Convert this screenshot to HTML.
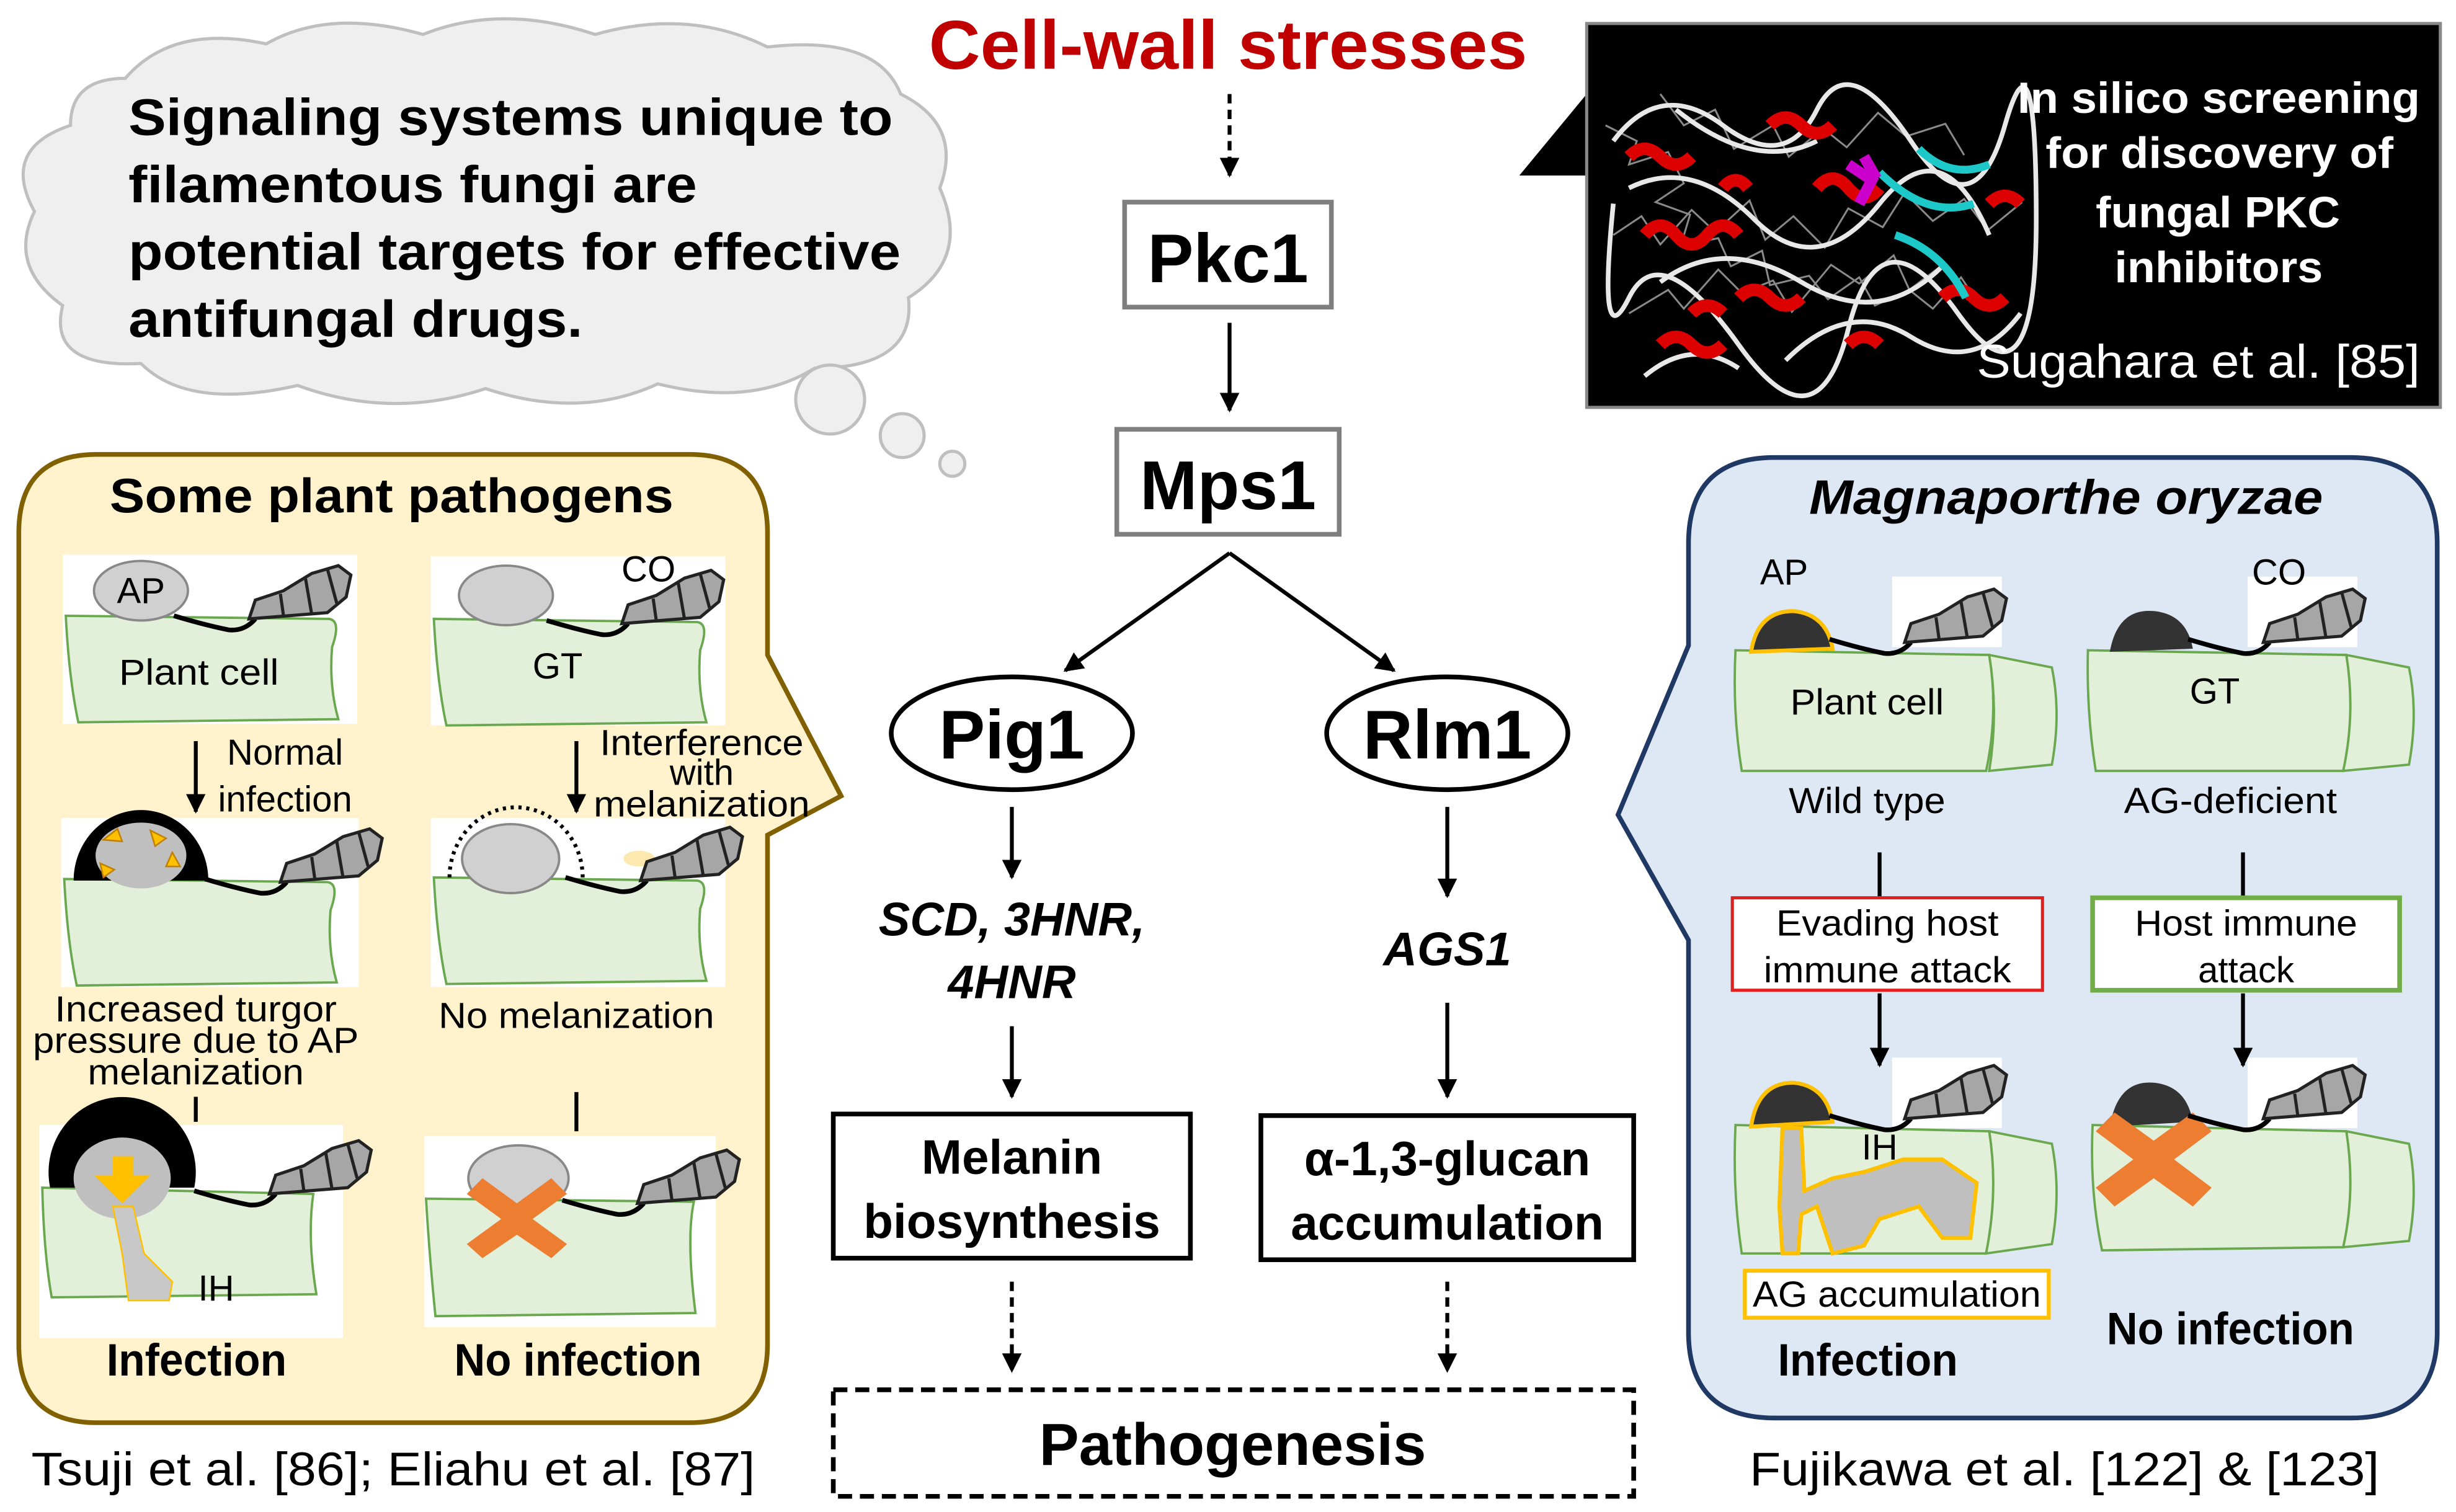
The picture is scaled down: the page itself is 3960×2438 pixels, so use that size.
<!DOCTYPE html>
<html><head><meta charset="utf-8"><style>
html,body{margin:0;padding:0;background:#fff;}
svg{display:block;}
text{font-family:"Liberation Sans",Arial,sans-serif;}
</style></head><body>
<svg width="3960" height="2438" viewBox="0 0 1568 965" preserveAspectRatio="none" xmlns="http://www.w3.org/2000/svg">
<defs>
<marker id="ah" viewBox="0 0 10 10" refX="9" refY="5" markerWidth="5" markerHeight="5" orient="auto-start-reverse"><path d="M0,0 L10,5 L0,10 z" fill="#000"/></marker>
<g id="hy">
<path d="M0,0 Q20,6 35,9 Q45,10 52,2" fill="none" stroke="#000" stroke-width="3"/>
<path d="M48,2 L98,-2 L110,-12 L113,-26 L105,-32 L88,-27 L70,-16 L52,-10 Z" fill="#a6a6a6" stroke="#222" stroke-width="2"/>
<path d="M68,-14 L70,0 M84,-24 L88,-1 M98,-30 L104,-8" stroke="#222" stroke-width="2" fill="none"/>
</g>
<g id="cellL">
<path d="M0,0 L168,2 Q176,3 170,20 Q168,45 174,66 L8,68 Q2,40 0,0 Z" fill="#e2efd9" stroke="#6aa84f" stroke-width="1.5"/>
</g>
</defs>

<!-- cloud -->
<g fill="#efefef" stroke="#bfbfbf" stroke-width="2">
<path d="M80,50 Q110,15 170,28 Q210,5 270,22 Q320,2 380,22 Q440,5 490,30 Q560,22 575,60 Q615,80 600,120 Q620,165 580,190 Q585,235 520,235 Q480,260 420,245 Q370,268 310,248 Q250,268 190,246 Q120,262 90,232 Q30,235 40,195 Q5,170 22,135 Q0,95 45,80 Q45,50 80,50 Z"/>
<circle cx="530" cy="255" r="22"/><circle cx="576" cy="278" r="14"/><circle cx="608" cy="296" r="8"/>
</g>
<g font-weight="bold" font-size="33" fill="#000">
<text x="82" y="86" textLength="488" lengthAdjust="spacingAndGlyphs">Signaling systems unique to</text>
<text x="82" y="129" textLength="363" lengthAdjust="spacingAndGlyphs">filamentous fungi are</text>
<text x="82" y="172" textLength="493" lengthAdjust="spacingAndGlyphs">potential targets for effective</text>
<text x="82" y="215" textLength="290" lengthAdjust="spacingAndGlyphs">antifungal drugs.</text>
</g>

<!-- title & main flow -->
<text x="593" y="44" font-size="44" font-weight="bold" fill="#c00000" textLength="382" lengthAdjust="spacingAndGlyphs">Cell-wall stresses</text>
<line x1="785" y1="60" x2="785" y2="112" stroke="#000" stroke-width="2.5" stroke-dasharray="6,4" marker-end="url(#ah)"/>
<rect x="718" y="129" width="132" height="67" fill="#fff" stroke="#7f7f7f" stroke-width="3"/>
<text x="784" y="180" text-anchor="middle" font-size="44" font-weight="bold">Pkc1</text>
<line x1="785" y1="206" x2="785" y2="262" stroke="#000" stroke-width="2.5" marker-end="url(#ah)"/>
<rect x="713" y="274" width="142" height="67" fill="#fff" stroke="#7f7f7f" stroke-width="3"/>
<text x="784" y="325" text-anchor="middle" font-size="44" font-weight="bold">Mps1</text>
<line x1="785" y1="353" x2="680" y2="428" stroke="#000" stroke-width="2.5" marker-end="url(#ah)"/>
<line x1="785" y1="353" x2="890" y2="428" stroke="#000" stroke-width="2.5" marker-end="url(#ah)"/>
<ellipse cx="646" cy="468" rx="77" ry="36" fill="#fff" stroke="#000" stroke-width="3"/>
<text x="646" y="484" text-anchor="middle" font-size="44" font-weight="bold">Pig1</text>
<ellipse cx="924" cy="468" rx="77" ry="36" fill="#fff" stroke="#000" stroke-width="3"/>
<text x="924" y="484" text-anchor="middle" font-size="44" font-weight="bold">Rlm1</text>
<line x1="646" y1="515" x2="646" y2="560" stroke="#000" stroke-width="2.5" marker-end="url(#ah)"/>
<line x1="924" y1="515" x2="924" y2="572" stroke="#000" stroke-width="2.5" marker-end="url(#ah)"/>
<text x="646" y="597" text-anchor="middle" font-size="30" font-weight="bold" font-style="italic">SCD, 3HNR,</text>
<text x="646" y="637" text-anchor="middle" font-size="30" font-weight="bold" font-style="italic">4HNR</text>
<text x="924" y="616" text-anchor="middle" font-size="30" font-weight="bold" font-style="italic">AGS1</text>
<line x1="646" y1="655" x2="646" y2="700" stroke="#000" stroke-width="2.5" marker-end="url(#ah)"/>
<line x1="924" y1="640" x2="924" y2="700" stroke="#000" stroke-width="2.5" marker-end="url(#ah)"/>
<rect x="532" y="711" width="228" height="92" fill="#fff" stroke="#000" stroke-width="3"/>
<text x="646" y="749" text-anchor="middle" font-size="31" font-weight="bold">Melanin</text>
<text x="646" y="790" text-anchor="middle" font-size="31" font-weight="bold">biosynthesis</text>
<rect x="805" y="712" width="238" height="92" fill="#fff" stroke="#000" stroke-width="3"/>
<text x="924" y="750" text-anchor="middle" font-size="31" font-weight="bold">α-1,3-glucan</text>
<text x="924" y="791" text-anchor="middle" font-size="31" font-weight="bold">accumulation</text>
<line x1="646" y1="818" x2="646" y2="875" stroke="#000" stroke-width="2.5" stroke-dasharray="6,4" marker-end="url(#ah)"/>
<line x1="924" y1="818" x2="924" y2="875" stroke="#000" stroke-width="2.5" stroke-dasharray="6,4" marker-end="url(#ah)"/>
<rect x="532" y="887" width="511" height="68" fill="#fff" stroke="#000" stroke-width="3" stroke-dasharray="9,5"/>
<text x="787" y="935" text-anchor="middle" font-size="38" font-weight="bold">Pathogenesis</text>

<!-- black box -->
<path d="M1013,60 L970,112 L1013,112 Z" fill="#000"/>
<rect x="1013" y="15" width="545" height="245" fill="#000" stroke="#888" stroke-width="2"/>
<g fill="none">
<g stroke="#8a8a8a" stroke-width="1.2">
<path d="M1025,80 l20,10 l-5,15 l25,-8 l10,20 l-18,12 l22,8 l-6,20 l24,-5 l8,18 l20,-10 l5,22 l25,-6 l12,15 l20,-14 l10,18 l22,-10 l15,12 l18,-20 l10,15"/>
<path d="M1030,150 l18,-12 l12,18 l20,-22 l15,14 l22,-20 l10,25 l18,-15 l20,20 l15,-25 l22,12 l14,-22 l18,18 l20,-14 l15,20 l22,-18"/>
<path d="M1040,200 l25,-15 l10,12 l22,-25 l15,15 l20,-8 l12,20 l25,-30 l18,12 l22,-18 l10,22 l20,-15 l15,18"/>
<path d="M1060,60 l15,20 l20,-10 l12,25 l25,-15 l10,20 l22,-18 l15,12 l20,-22 l18,15 l25,-8 l12,20"/>
</g>
<g stroke="#e8e8e8" stroke-width="3">
<path d="M1030,90 Q1060,50 1100,80 T1160,70 T1220,90 T1280,80 T1300,140 T1250,200 T1180,210 T1110,220 T1040,190 T1030,130"/>
<path d="M1040,120 Q1080,100 1120,140 T1200,130 T1270,150 M1060,180 Q1100,150 1150,180 T1240,170 M1070,70 Q1120,110 1160,90 M1140,230 Q1180,190 1220,215 T1290,200 M1050,240 Q1080,215 1110,235"/>
</g>
<g stroke="#d00" stroke-width="8">
<path d="M1040,100 q10,-10 20,0 t20,0 M1050,150 q10,-12 20,0 t20,0 t20,0 M1110,190 q10,-10 20,0 t20,0 M1160,120 q10,-12 20,0 t20,0 M1080,200 q10,-10 20,0 M1240,190 q10,-10 20,0 t20,0 M1130,80 q10,-10 20,0 t20,0 M1060,220 q10,-10 20,0 t20,0 M1180,220 q10,-10 20,0 M1270,130 q10,-10 20,0 M1100,120 q8,-10 16,0"/>
</g>
<path d="M1200,110 Q1230,140 1260,130 M1210,150 Q1240,160 1255,190 M1225,95 Q1245,115 1270,105" stroke="#1cc8c8" stroke-width="5"/>
<path d="M1180,105 l15,10 l-8,15 M1190,100 l8,14" stroke="#c0c" stroke-width="7"/>
</g>
<g font-weight="bold" font-size="28" fill="#fff">
<text x="1288" y="72" textLength="257" lengthAdjust="spacingAndGlyphs">In silico screening</text>
<text x="1306" y="107" textLength="222" lengthAdjust="spacingAndGlyphs">for discovery of</text>
<text x="1338" y="145" textLength="156" lengthAdjust="spacingAndGlyphs">fungal PKC</text>
<text x="1350" y="180" textLength="133" lengthAdjust="spacingAndGlyphs">inhibitors</text>
</g>
<text x="1262" y="241" font-size="30" fill="#fff" textLength="283" lengthAdjust="spacingAndGlyphs">Sugahara et al. [85]</text>

<!-- left panel -->
<path d="M62,290 L440,290 Q490,290 490,340 L490,418 L537,508 L490,533 L490,858 Q490,908 440,908 L62,908 Q12,908 12,858 L12,340 Q12,290 62,290 Z" fill="#fff2cc" stroke="#806000" stroke-width="3"/>
<text x="70" y="327" font-size="31" font-weight="bold" textLength="360" lengthAdjust="spacingAndGlyphs">Some plant pathogens</text>

<rect x="40" y="354" width="188" height="108" fill="#fff"/>
<use href="#cellL" x="42" y="393"/>
<ellipse cx="90" cy="377" rx="30" ry="19" fill="#d0d0d0" stroke="#888" stroke-width="1.5"/>
<text x="90" y="385" text-anchor="middle" font-size="23">AP</text>
<text x="127" y="437" text-anchor="middle" font-size="23" textLength="102" lengthAdjust="spacingAndGlyphs">Plant cell</text>
<use href="#hy" x="111" y="393"/>

<rect x="275" y="355" width="188" height="108" fill="#fff"/>
<use href="#cellL" x="277" y="395"/>
<ellipse cx="323" cy="380" rx="30" ry="19" fill="#d0d0d0" stroke="#888" stroke-width="1.5"/>
<text x="414" y="371" text-anchor="middle" font-size="23">CO</text>
<text x="356" y="433" text-anchor="middle" font-size="23">GT</text>
<use href="#hy" x="349" y="396"/>

<line x1="125" y1="473" x2="125" y2="518" stroke="#000" stroke-width="2.5" marker-end="url(#ah)"/>
<text x="182" y="488" text-anchor="middle" font-size="23">Normal</text>
<text x="182" y="518" text-anchor="middle" font-size="23">infection</text>
<line x1="368" y1="473" x2="368" y2="518" stroke="#000" stroke-width="2.5" marker-end="url(#ah)"/>
<text x="448" y="482" text-anchor="middle" font-size="23" textLength="130" lengthAdjust="spacingAndGlyphs">Interference</text>
<text x="448" y="501" text-anchor="middle" font-size="23">with</text>
<text x="448" y="521" text-anchor="middle" font-size="23" textLength="138" lengthAdjust="spacingAndGlyphs">melanization</text>

<rect x="39" y="522" width="190" height="108" fill="#fff"/>
<use href="#cellL" x="41" y="561"/>
<path d="M47,562 A43,45 0 1 1 133,562 Z" fill="#000"/>
<ellipse cx="90" cy="546" rx="29" ry="21" fill="#bfbfbf"/>
<g fill="#ffc000" stroke="#c08000" stroke-width="1"><path d="M66,536 l9,-7 l3,8 z"/><path d="M96,530 l10,5 l-7,5 z"/><path d="M110,544 l5,9 l-9,0 z"/><path d="M64,551 l2,9 l7,-5 z"/></g>
<use href="#hy" x="131" y="561"/>

<rect x="275" y="522" width="188" height="108" fill="#fff"/>
<use href="#cellL" x="277" y="560"/>
<path d="M287,560 A38,40 0 1 1 372,560" fill="none" stroke="#000" stroke-width="2.5" stroke-dasharray="2,3"/>
<ellipse cx="326" cy="548" rx="31" ry="22" fill="#d0d0d0" stroke="#888" stroke-width="1.5"/>
<ellipse cx="408" cy="548" rx="10" ry="5" fill="#fde8b0"/>
<use href="#hy" x="361" y="560"/>

<text x="125" y="652" text-anchor="middle" font-size="23" textLength="180" lengthAdjust="spacingAndGlyphs">Increased turgor</text>
<text x="125" y="672" text-anchor="middle" font-size="23" textLength="208" lengthAdjust="spacingAndGlyphs">pressure due to AP</text>
<text x="125" y="692" text-anchor="middle" font-size="23" textLength="138" lengthAdjust="spacingAndGlyphs">melanization</text>
<text x="368" y="656" text-anchor="middle" font-size="23" textLength="176" lengthAdjust="spacingAndGlyphs">No melanization</text>
<line x1="125" y1="700" x2="125" y2="716" stroke="#000" stroke-width="2.5"/>
<line x1="368" y1="697" x2="368" y2="722" stroke="#000" stroke-width="2.5"/>

<rect x="25" y="718" width="194" height="136" fill="#fff"/>
<path d="M27,758 L200,762 Q196,790 202,826 L33,828 Q28,800 27,758 Z" fill="#e2efd9" stroke="#6aa84f" stroke-width="1.5"/>
<path d="M32,758 A47,48 0 1 1 124,758 Z" fill="#000"/>
<ellipse cx="78" cy="752" rx="31" ry="26" fill="#bfbfbf"/>
<path d="M72,738 L85,738 L85,750 L96,750 L78,768 L60,750 L72,750 Z" fill="#ffc000"/>
<path d="M72,770 L85,770 L92,800 L110,818 L108,830 L82,830 L78,800 Z" fill="#c8c8c8" stroke="#ffc000" stroke-width="1"/>
<text x="138" y="830" text-anchor="middle" font-size="23">IH</text>
<use href="#hy" x="124" y="760"/>

<rect x="271" y="725" width="186" height="122" fill="#fff"/>
<path d="M272,765 L443,767 Q438,790 444,838 L278,840 Q274,800 272,765 Z" fill="#e2efd9" stroke="#6aa84f" stroke-width="1.5"/>
<ellipse cx="331" cy="752" rx="32" ry="21" fill="#d0d0d0" stroke="#888" stroke-width="1.5"/>
<path d="M308,752 L330,768 L352,752 L362,762 L340,778 L362,794 L352,803 L330,788 L308,803 L298,794 L320,778 L298,762 Z" fill="#ed7d31"/>
<use href="#hy" x="359" y="766"/>

<text x="68" y="878" font-size="29" font-weight="bold" textLength="115" lengthAdjust="spacingAndGlyphs">Infection</text>
<text x="290" y="878" font-size="29" font-weight="bold" textLength="158" lengthAdjust="spacingAndGlyphs">No infection</text>
<text x="20" y="948" font-size="30" textLength="462" lengthAdjust="spacingAndGlyphs">Tsuji et al. [86]; Eliahu et al. [87]</text>

<!-- right panel -->
<path d="M1133,292 L1501,292 Q1556,292 1556,347 L1556,850 Q1556,905 1501,905 L1133,905 Q1078,905 1078,850 L1078,600 L1033,520 L1078,412 L1078,347 Q1078,292 1133,292 Z" fill="#dee8f5" stroke="#1f3864" stroke-width="3"/>
<text x="1155" y="328" font-size="31" font-weight="bold" font-style="italic" textLength="328" lengthAdjust="spacingAndGlyphs">Magnaporthe oryzae</text>

<rect x="1208" y="368" width="70" height="45" fill="#fff"/>
<rect x="1435" y="368" width="70" height="45" fill="#fff"/>
<text x="1139" y="373" text-anchor="middle" font-size="23">AP</text>
<text x="1455" y="373" text-anchor="middle" font-size="23">CO</text>
<g fill="#e2efd9" stroke="#6aa84f" stroke-width="1.5">
<path d="M1108,415 L1270,418 Q1276,455 1268,492 L1112,492 Q1106,455 1108,415 Z"/>
<path d="M1270,418 L1310,426 Q1316,455 1310,488 L1270,492 Q1276,455 1270,418 Z"/>
<path d="M1333,415 L1498,418 Q1504,455 1496,492 L1338,492 Q1332,455 1333,415 Z"/>
<path d="M1498,418 L1538,426 Q1544,455 1538,488 L1496,492 Q1504,455 1498,418 Z"/>
</g>
<path d="M1118,416 Q1122,390 1145,390 Q1166,392 1170,414 Z" fill="#333" stroke="#ffc000" stroke-width="2.5"/>
<path d="M1347,416 Q1352,388 1375,390 Q1396,392 1400,414 Z" fill="#333"/>
<use href="#hy" x="1168" y="408"/>
<use href="#hy" x="1397" y="408"/>
<text x="1192" y="456" text-anchor="middle" font-size="23" textLength="98" lengthAdjust="spacingAndGlyphs">Plant cell</text>
<text x="1414" y="449" text-anchor="middle" font-size="23">GT</text>
<text x="1192" y="519" text-anchor="middle" font-size="23" textLength="100" lengthAdjust="spacingAndGlyphs">Wild type</text>
<text x="1424" y="519" text-anchor="middle" font-size="23" textLength="136" lengthAdjust="spacingAndGlyphs">AG-deficient</text>
<line x1="1200" y1="544" x2="1200" y2="572" stroke="#000" stroke-width="2.5"/>
<line x1="1432" y1="544" x2="1432" y2="572" stroke="#000" stroke-width="2.5"/>
<rect x="1106" y="573" width="198" height="59" fill="#fff" stroke="#e02020" stroke-width="2"/>
<text x="1205" y="597" text-anchor="middle" font-size="23" textLength="142" lengthAdjust="spacingAndGlyphs">Evading host</text>
<text x="1205" y="627" text-anchor="middle" font-size="23" textLength="158" lengthAdjust="spacingAndGlyphs">immune attack</text>
<rect x="1336" y="573" width="196" height="59" fill="#fff" stroke="#70ad47" stroke-width="3"/>
<text x="1434" y="597" text-anchor="middle" font-size="23" textLength="142" lengthAdjust="spacingAndGlyphs">Host immune</text>
<text x="1434" y="627" text-anchor="middle" font-size="23">attack</text>
<line x1="1200" y1="634" x2="1200" y2="680" stroke="#000" stroke-width="2.5" marker-end="url(#ah)"/>
<line x1="1432" y1="634" x2="1432" y2="680" stroke="#000" stroke-width="2.5" marker-end="url(#ah)"/>

<rect x="1208" y="675" width="70" height="45" fill="#fff"/>
<rect x="1435" y="675" width="70" height="45" fill="#fff"/>
<g fill="#e2efd9" stroke="#6aa84f" stroke-width="1.5">
<path d="M1108,718 L1270,722 Q1276,760 1268,800 L1112,800 Q1106,760 1108,718 Z"/>
<path d="M1270,722 L1310,730 Q1316,760 1310,794 L1268,800 Q1276,760 1270,722 Z"/>
<path d="M1336,718 L1498,722 Q1504,760 1496,796 L1342,798 Q1334,760 1336,718 Z"/>
<path d="M1498,722 L1538,730 Q1544,760 1538,792 L1496,796 Q1504,760 1498,722 Z"/>
</g>
<path d="M1118,719 Q1122,691 1145,691 Q1166,693 1170,716 Z" fill="#333" stroke="#ffc000" stroke-width="2.5"/>
<path d="M1138,720 L1150,720 L1152,760 L1170,752 L1190,748 L1215,740 L1240,740 L1262,755 L1258,790 L1240,790 L1225,770 L1200,778 L1190,795 L1170,800 L1160,770 L1150,775 L1148,800 L1138,800 L1136,770 Z" fill="#bfbfbf" stroke="#ffc000" stroke-width="2.5"/>
<text x="1200" y="740" text-anchor="middle" font-size="23">IH</text>
<path d="M1347,719 Q1352,689 1375,691 Q1396,693 1400,716 Z" fill="#333"/>
<path d="M1350,710 L1375,728 L1400,710 L1412,722 L1388,740 L1412,758 L1400,770 L1375,752 L1350,770 L1338,758 L1362,740 L1338,722 Z" fill="#ed7d31"/>
<use href="#hy" x="1168" y="712"/>
<use href="#hy" x="1397" y="712"/>
<rect x="1114" y="811" width="194" height="30" fill="#fff" stroke="#ffc000" stroke-width="2.5"/>
<text x="1211" y="834" text-anchor="middle" font-size="23" textLength="184" lengthAdjust="spacingAndGlyphs">AG accumulation</text>
<text x="1135" y="878" font-size="29" font-weight="bold" textLength="115" lengthAdjust="spacingAndGlyphs">Infection</text>
<text x="1345" y="858" font-size="29" font-weight="bold" textLength="158" lengthAdjust="spacingAndGlyphs">No infection</text>
<text x="1117" y="948" font-size="30" textLength="402" lengthAdjust="spacingAndGlyphs">Fujikawa et al. [122] &amp; [123]</text>
</svg>
</body></html>
